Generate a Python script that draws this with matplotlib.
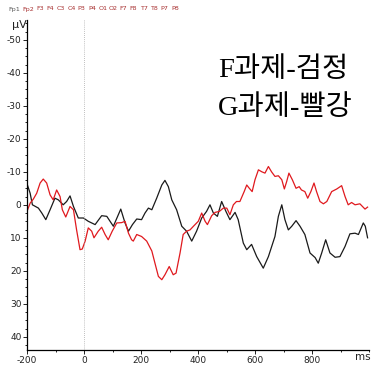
import matplotlib
matplotlib.use("Agg")
import matplotlib.pyplot as plt
from matplotlib.ticker import MultipleLocator

# ms / uV (negative up)
black_ms = [-200, -189, -181, -160, -148, -134, -119, -102, -90, -73, -61, -49, -37, -20, -2,
            15, 39, 62, 80, 103, 129, 144, 156, 170, 185, 202, 214, 226, 238, 255, 273, 284,
            296, 308, 325, 343, 360, 378, 395, 413, 430, 442, 454, 468, 483, 498, 512, 530,
            541, 559, 571, 588, 606, 629, 647, 670, 682, 694, 705, 717, 729, 744, 758, 775,
            793, 811, 822, 834, 848, 863, 881, 898, 916, 933, 951, 963, 980, 987, 995]
black_uv = [-6.4, -3.5, 0, 1, 2.5, 4.5, 1.5, -2, -1.5, 0, -1, -2.7, 0.5, 4, 4,
            5, 6, 3.3, 3.5, 6.5, 1.3, 5.5, 8, 6, 4.3, 4.5, 2.5, 1, 1.5, -2, -6, -7.4,
            -5.5, -1.5, 1.5, 6.5, 8, 11, 8, 4, 2, 0, 2.5, 3.5, -1, 2, 4.5, 2.3,
            4.5, 11.6, 13.6, 12, 15.7, 19.2, 15.7, 9.6, 3.5, 0, 4.5, 7.6, 6.5, 4.8, 6.5, 9,
            14.6, 16, 17.7, 14.6, 10.6, 14.6, 15.9, 15.7, 12.6, 8.8, 8.6, 9, 5.5, 6.5, 10]

red_ms = [-200, -189, -178, -166, -154, -143, -131, -119, -108, -96, -84, -76, -64, -49, -37,
          -26, -14, -6, 4, 15, 27, 35, 50, 62, 74, 85, 99, 115, 132, 144, 156, 167, 173,
          185, 202, 220, 238, 249, 261, 273, 284, 299, 313, 323, 337, 348, 360, 372, 384,
          401, 413, 425, 433, 448, 460, 475, 489, 501, 512, 524, 535, 547, 562, 571, 580,
          590, 600, 612, 624, 635, 647, 658, 670, 682, 694, 703, 711, 719, 731, 744, 755,
          763, 775, 785, 796, 807, 816, 828, 840, 852, 869, 887, 904, 916, 927, 939, 951,
          968, 986, 995]
red_uv = [2, -0.5, -1.7, -3.5, -6.6, -7.8, -6.6, -3, -1.5, -4.5, -2.5, 1.5, 3.7, 0.5, 1.5,
          7.6, 13.6, 13.4, 11, 7, 8, 10, 8, 6.8, 9, 10.6, 8, 5.5, 5.4, 5, 8.6, 10.6, 11,
          9, 9.6, 11, 14, 17.7, 21.7, 22.7, 21.2, 18.7, 21.2, 20.7, 14.6, 9, 8, 7.6, 6.5,
          5, 2.5, 5, 6, 3.3, 2.3, 2, 1, 1, 3, 0, -1, -1, -4, -6, -5,
          -4, -7.6, -10.6, -10, -9.6, -11.6, -10, -8.6, -8.8, -7.6, -4.8, -7, -9.6, -7.6, -5, -5.5,
          -4.5, -4, -2, -4, -6.6, -4, -1, -0.3, -1, -4, -4.8, -5.8, -2.5, 0, -0.7, 0,
          -0.3, 1.3, 0.7]

channels = ["Fp1", "Fp2", "F3", "F4", "C3", "C4", "P3", "P4", "O1", "O2",
            "F7", "F8", "T7", "T8", "P7", "P8"]

plt.rcParams["axes.unicode_minus"] = False

W, H = 372, 368
fig = plt.figure(figsize=(W / 100, H / 100), dpi=100)
ax = fig.add_axes([27 / W, 1 - 350 / H, (369 - 27) / W, 330 / H])

ax.plot(black_ms, black_uv, color="#1a1a1a", lw=0.9)
ax.plot(red_ms, red_uv, color="#e0191e", lw=0.9)
ax.axvline(0, color="#aaaaaa", lw=0.6, ls=(0, (1, 1.5)))

ax.set_xlim(-200, 1000)
ax.set_ylim(44, -56)
ax.set_xticks([-200, 0, 200, 400, 600, 800])
ax.set_yticks([-50, -40, -30, -20, -10, 0, 10, 20, 30, 40])
ax.xaxis.set_minor_locator(MultipleLocator(100))
ax.yaxis.set_minor_locator(MultipleLocator(2.5))
ax.tick_params(which="major", length=3, width=0.7, labelsize=6.5, colors="#222222", pad=1)
ax.tick_params(which="minor", length=1.5, width=0.6)
for s in ["top", "right"]:
    ax.spines[s].set_visible(False)
for s in ["left", "bottom"]:
    ax.spines[s].set_linewidth(0.9)

fig.text(12 / W, 1 - 25 / H, "µV", fontsize=8, va="center", ha="left", color="#222222")
fig.text(355 / W, 1 - 357 / H, "ms", fontsize=7.5, va="center", ha="left", color="#222222")

# channel list across the top
for i, ch in enumerate(channels):
    col = "#555555" if i == 0 else "#a83030"
    xpx = 8 if i == 0 else (22 if i == 1 else 36 + (i - 2) * 10.4)
    fig.text(xpx / W, 1 - 9 / H, ch, fontsize=4.6, ha="left", va="center", color=col)

fam = ["Liberation Serif", "Noto Sans CJK KR"]
fig.text(218 / W, 1 - 70 / H, "F과제-검정", fontsize=20.5, family=fam, va="center", ha="left")
fig.text(218 / W, 1 - 108 / H, "G과제-빨강", fontsize=20.5, family=fam, va="center", ha="left")

fig.savefig("out.png", dpi=100)
